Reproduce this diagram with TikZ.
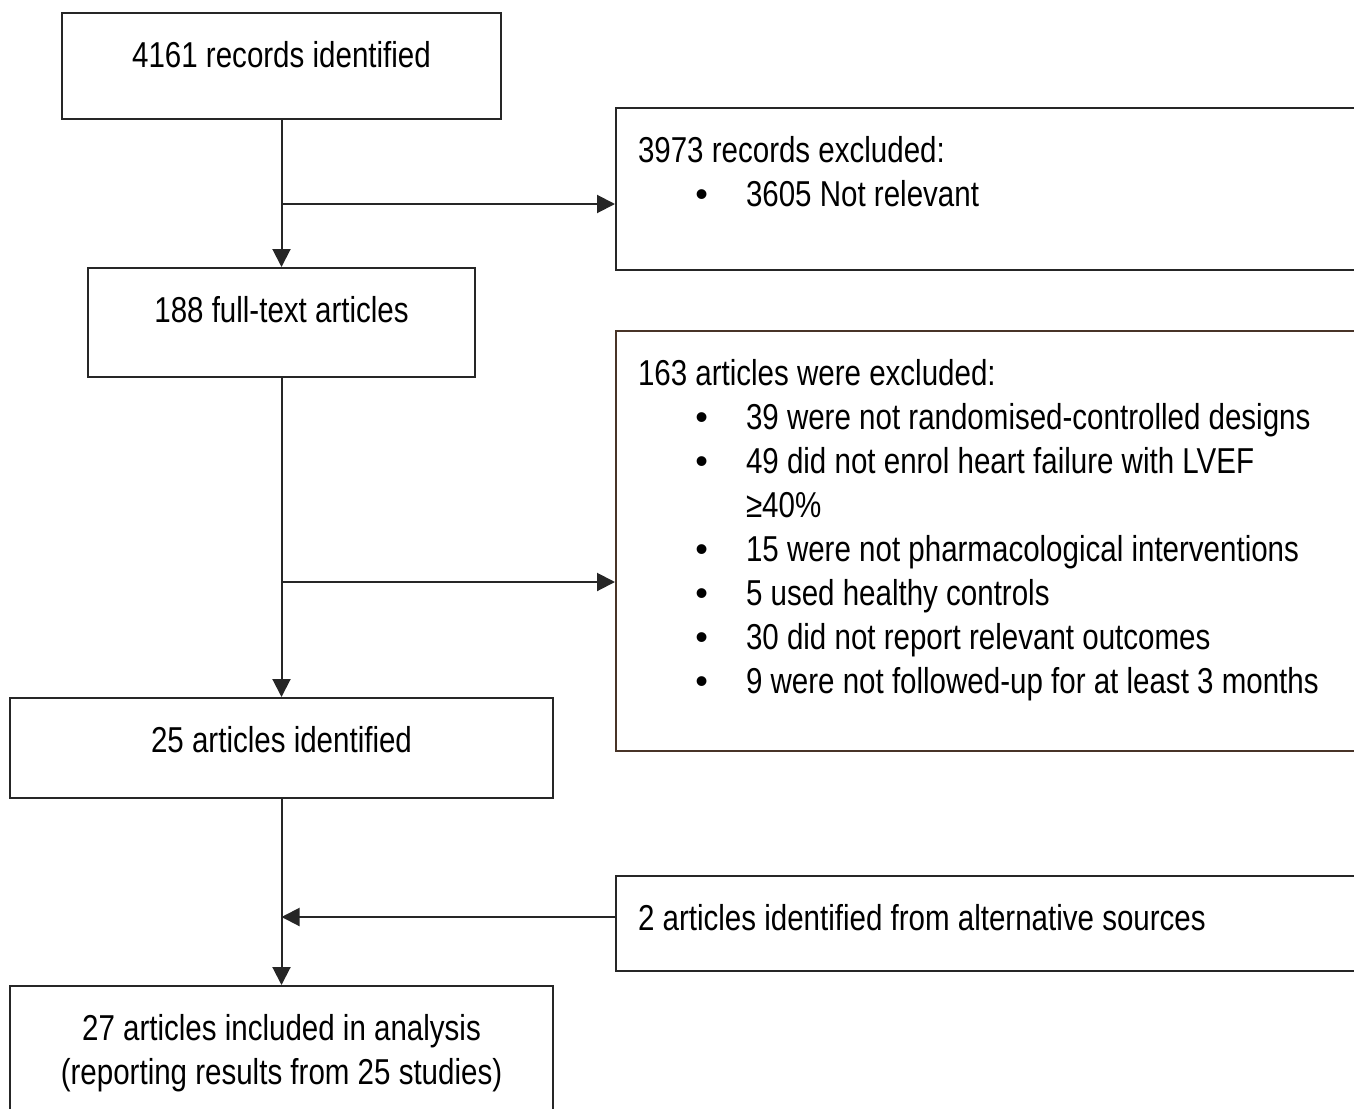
\documentclass[tikz,border=0pt]{standalone}
\usepackage{fontspec}
\setmainfont[FakeStretch=0.82]{Liberation Sans}
\newfontfamily\bulletfont{Liberation Sans}
\usetikzlibrary{arrows.meta, positioning}
\definecolor{linegrey}{RGB}{38,38,38}
\definecolor{exclbrown}{RGB}{72,52,40}
\tikzstyle{stage} = [rectangle, draw=linegrey, line width=1pt, inner ysep=0pt,
	text height=27pt, anchor=north]
\tikzstyle{excl} = [rectangle, draw=linegrey, line width=1pt, inner xsep=11pt,
	inner ysep=0pt, text height=27pt, text width=360pt, align=left, anchor=north west,
	execute at begin node={\spaceskip=0pt\xspaceskip=0pt}]
\tikzstyle{arrow} = [-{Triangle[length=9pt, width=9pt]}, draw=linegrey, line width=1pt]
\newcommand{\exitem}[1]{\par\noindent\hangindent=54pt\hangafter=1%
	\hbox to 54pt{\hss{\bulletfont\textbullet}\hspace*{19pt}}#1}

\begin{document}
\begin{tikzpicture}[x=0.5pt, y=-0.5pt, font=\fontsize{18}{22}\selectfont]
	% set up frame
	\useasboundingbox (0,0) rectangle (1354,1108);
	\clip (0,0) rectangle (1354,1108);

	% set up nodes
	\node (records) [stage, minimum width=219.5pt, text depth=26pt] at (281.5,12) {4161 records identified};
	\node (fulltext) [stage, minimum width=193.5pt, text depth=27.5pt] at (281.5,267) {188 full-text articles};
	\node (identified) [stage, minimum width=271.5pt, text depth=23pt] at (281.5,697) {25 articles identified};
	\node (included) [stage, minimum width=271.5pt, align=center, text height=49pt, text depth=60pt] at (281.5,985)
		{27 articles included in analysis\\(reporting results from 25 studies)};

	\node (excl1) [excl, text depth=54pt] at (615,107) {3973 records excluded:
		\exitem{3605 Not relevant}};
	\node (excl2) [excl, draw=exclbrown, text depth=183pt] at (615,330) {163 articles were excluded:
		\exitem{39 were not randomised-controlled designs}
		\exitem{49 did not enrol heart failure with LVEF\newline ≥40\%}
		\exitem{15 were not pharmacological interventions}
		\exitem{5 used healthy controls}
		\exitem{30 did not report relevant outcomes}
		\exitem{9 were not followed-up for at least 3 months}};
	\node (alt) [excl, text depth=20.5pt] at (615,875) {2 articles identified from alternative sources};

	\coordinate (split1) at (281.5,204);
	\coordinate (split2) at (281.5,582);
	\coordinate (merge) at (281.5,917);

	% set up arrows
	\draw[arrow] (records.south) -- (fulltext.north);
	\draw[arrow] (split1) -- (split1 -| excl1.west);
	\draw[arrow] (fulltext.south) -- (identified.north);
	\draw[arrow] (split2) -- (split2 -| excl2.west);
	\draw[arrow] (identified.south) -- (included.north);
	\draw[arrow] (merge -| alt.west) -- (merge);
\end{tikzpicture}
\end{document}
